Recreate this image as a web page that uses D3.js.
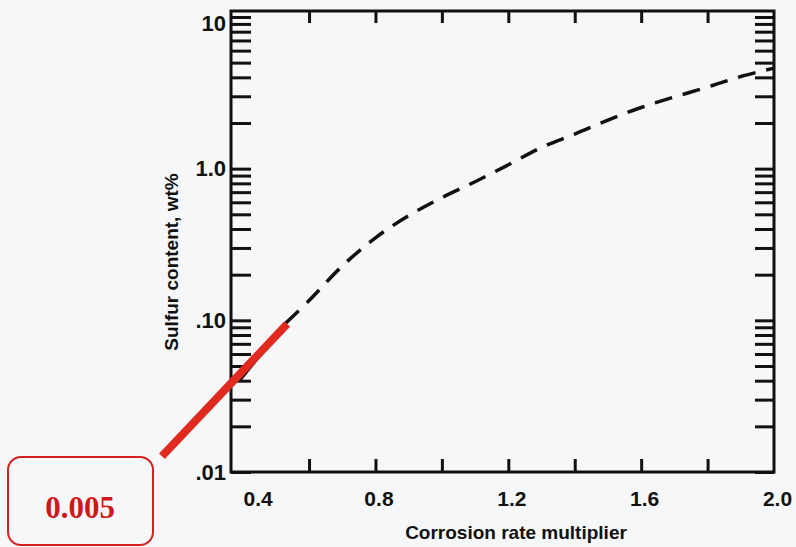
<!DOCTYPE html>
<html>
<head>
<meta charset="utf-8">
<script src="https://cdn.jsdelivr.net/npm/d3@7"></script>
<style>
  body { margin: 0; background: #f6f7f8; }
  svg { display: block; }
  .axis text { font-family: "Liberation Sans", Arial, sans-serif; font-weight: bold; fill: #111; }
  .axis path { display: none; }
  .axis line { stroke: #111; stroke-width: 3; }
</style>
</head>
<body>
<div id="graphic"></div>
<script>
// corrosion rate multiplier vs sulfur content (log)
const rateDashed = [0.53, 0.6, 0.7, 0.8, 0.9, 1.0, 1.1, 1.2, 1.3, 1.4, 1.5, 1.6, 1.7, 1.8, 1.9, 2.0];
const sulfurDashed = [0.096, 0.135, 0.228, 0.35, 0.49, 0.644, 0.82, 1.06, 1.38, 1.69, 2.09, 2.53, 2.97, 3.45, 4.05, 4.6];

const rateSolid = [0.39, 0.53];
const sulfurSolid = [0.04, 0.096];

// red annotation line and callout
const rateNote = [0.157, 0.534];
const sulfurNote = [0.0127, 0.0946];
const noteText = "0.005";

const xMinorTicks = [0.6, 0.8, 1.0, 1.2, 1.4, 1.6, 1.8];
const xLabelTicks = [0.4, 0.8, 1.2, 1.6, 2.0];
const yLabels = { 10: "10", 1: "1.0", 0.1: ".10", 0.01: ".01" };

const width = 796, height = 547;
const margin = { left: 231, right: 22, top: 11, bottom: 75 };

const svg = d3.select("#graphic").append("svg")
  .attr("width", width)
  .attr("height", height);

svg.append("rect")
  .attr("width", width)
  .attr("height", height)
  .attr("fill", "#f6f7f8");

const x = d3.scaleLinear()
  .domain([0.365, 2.0])
  .range([margin.left, width - margin.right]);

const y = d3.scaleLog()
  .domain([0.01, 10.95])
  .range([height - margin.bottom, margin.top]);

// log ticks 1..9 per decade
const yTicks = [];
[0.01, 0.1, 1].forEach(function(d){
  for (let i = 1; i < 10; i++) yTicks.push(+(d * i).toPrecision(3));
});
yTicks.push(10);

const fmtY = function(d){ return yLabels[d] || ""; };

svg.append("g")
  .attr("class", "axis yaxis")
  .attr("transform", `translate(${x.range()[0]},0)`)
  .call(d3.axisLeft(y).tickValues(yTicks).tickFormat(fmtY).tickSizeInner(-20).tickSizeOuter(0).tickPadding(5))
  .selectAll("text")
  .style("font-size", "22px")
  .attr("dy", function(d){ return d === 10 ? "0.6em" : "0.32em"; });

svg.append("g")
  .attr("class", "axis yaxis-right")
  .attr("transform", `translate(${x.range()[1]},0)`)
  .call(d3.axisRight(y).tickValues(yTicks).tickFormat("").tickSizeInner(-19).tickSizeOuter(0));

svg.append("g")
  .attr("class", "axis xaxis")
  .attr("transform", `translate(0,${y.range()[0]})`)
  .call(d3.axisBottom(x).tickValues(xMinorTicks).tickFormat("").tickSizeInner(-13).tickSizeOuter(0));

svg.append("g")
  .attr("class", "axis xaxis-top")
  .attr("transform", `translate(0,${y.range()[1]})`)
  .call(d3.axisTop(x).tickValues(xMinorTicks).tickFormat("").tickSizeInner(-12).tickSizeOuter(0));

const xLab = svg.append("g")
  .attr("class", "axis xlabels")
  .attr("transform", `translate(3,${y.range()[0]})`)
  .call(d3.axisBottom(x).tickValues(xLabelTicks).tickFormat(d3.format(".1f")).tickSize(0).tickPadding(19));
xLab.selectAll("text")
  .style("font-size", "21px")
  .attr("dx", function(d){ return d === 0.4 ? 12 : 0; });

// frame
svg.append("rect")
  .attr("x", x.range()[0])
  .attr("y", y.range()[1])
  .attr("width", x.range()[1] - x.range()[0])
  .attr("height", y.range()[0] - y.range()[1])
  .attr("fill", "none")
  .attr("stroke", "#111")
  .attr("stroke-width", 3);

const line = d3.line()
  .x(d => x(d[0]))
  .y(d => y(d[1]))
  .curve(d3.curveCatmullRom);

svg.append("path")
  .datum(d3.zip(rateDashed, sulfurDashed))
  .attr("d", line)
  .attr("fill", "none")
  .attr("stroke", "#111")
  .attr("stroke-width", 3.5)
  .attr("stroke-dasharray", "18,11");

svg.append("path")
  .datum(d3.zip(rateSolid, sulfurSolid))
  .attr("d", line)
  .attr("fill", "none")
  .attr("stroke", "#111")
  .attr("stroke-width", 3.5);

svg.append("path")
  .datum(d3.zip(rateNote, sulfurNote))
  .attr("d", d3.line().x(d => x(d[0])).y(d => y(d[1])))
  .attr("fill", "none")
  .attr("stroke", "#e02a1f")
  .attr("stroke-width", 8);

// callout box
svg.append("rect")
  .attr("x", 8)
  .attr("y", 457)
  .attr("width", 145)
  .attr("height", 88)
  .attr("rx", 13)
  .attr("fill", "none")
  .attr("stroke", "#d42020")
  .attr("stroke-width", 2);

svg.append("text")
  .attr("x", 80)
  .attr("y", 518)
  .attr("text-anchor", "middle")
  .style("font-family", "'Liberation Serif', 'Times New Roman', serif")
  .style("font-weight", "bold")
  .style("font-size", "31px")
  .attr("fill", "#d01818")
  .text(noteText);

// axis titles
svg.append("text")
  .attr("x", 516)
  .attr("y", 539)
  .attr("text-anchor", "middle")
  .style("font-family", "'Liberation Sans', Arial, sans-serif")
  .style("font-weight", "bold")
  .style("font-size", "19px")
  .attr("fill", "#111")
  .text("Corrosion rate multiplier");

svg.append("text")
  .attr("transform", "translate(178,262) rotate(-90)")
  .attr("text-anchor", "middle")
  .style("font-family", "'Liberation Sans', Arial, sans-serif")
  .style("font-weight", "bold")
  .style("font-size", "19px")
  .attr("fill", "#111")
  .text("Sulfur content, wt%");
</script>
</body>
</html>
